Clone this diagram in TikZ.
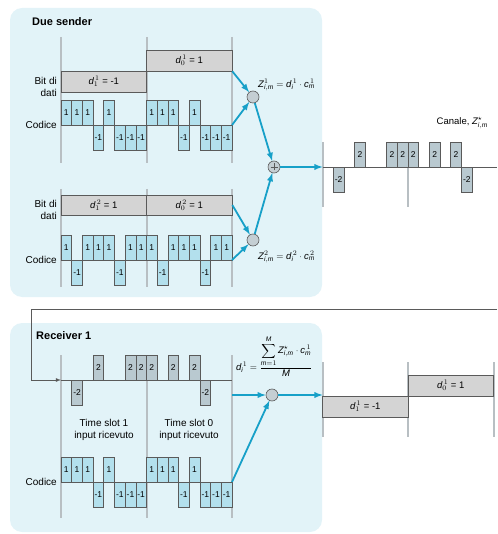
\documentclass[tikz,border=0pt]{standalone}
\usepackage{fontspec}
\setmainfont{Liberation Sans}
\usetikzlibrary{arrows}

\definecolor{panelbg}{HTML}{E2F3F8}
\definecolor{codefill}{HTML}{B3E0ED}
\definecolor{chanfill}{HTML}{B9C9D0}
\definecolor{datafill}{HTML}{D4D4D4}
\definecolor{edgegray}{HTML}{5A5A5A}
\definecolor{guidegray}{HTML}{B8BFC3}
\definecolor{flowblue}{HTML}{17A0C8}
\definecolor{mixfill}{HTML}{C4CED3}

\newcommand\mvar[1]{\mathit{#1}}
\def\cw{10.6875}

\begin{document}
\begin{tikzpicture}[x=1pt,y=-1pt,
  panel/.style={fill=panelbg,draw=none,rounded corners=12pt},
  guide/.style={draw=guidegray,line width=2pt},
  axis/.style={draw=edgegray,line width=0.8pt},
  codebar/.style={fill=codefill,draw=edgegray,line width=0.6pt},
  chanbar/.style={fill=chanfill,draw=edgegray,line width=0.6pt},
  chipnum/.style={font=\fontsize{8.5}{9}\selectfont,inner sep=0pt},
  databox/.style={fill=datafill,draw=edgegray,line width=0.6pt,minimum width=85.5pt,minimum height=21pt,inner sep=0pt,font=\fontsize{9.5}{11}\selectfont},
  rowlabel/.style={anchor=east,align=right,inner sep=0pt,font=\fontsize{10}{11.5}\selectfont},
  title/.style={anchor=west,inner sep=0pt,font=\fontsize{11}{13}\bfseries\selectfont},
  mixer/.style={circle,fill=mixfill,draw=edgegray,line width=0.6pt,minimum size=12pt,inner sep=0pt},
  flow/.style={draw=flowblue,line width=1.8pt,-latex},
  formula/.style={inner sep=0pt,font=\fontsize{9.5}{10}\selectfont}]
\useasboundingbox (0,0) rectangle (497,534);

%panels
\fill[panel] (10,8) rectangle (322,297);
\fill[panel] (10,323) rectangle (322,532);
\node[title] (sendtitle) at (32,22) {Due sender};
\node[title] (rxtitle) at (36,336) {Receiver 1};

%guide lines
\foreach \x in {61,146.5,232} {
  \draw[guide] (\x,37) -- (\x,163);
  \draw[guide] (\x,189) -- (\x,287);
  \draw[guide] (\x,355) -- (\x,518);
}
\foreach \x in {322.5,408} \draw[guide] (\x,142) -- (\x,207);
\foreach \x in {322.5,408,493.5} \draw[guide] (\x,362) -- (\x,437);

%sender 1: data bits and code
\node[rowlabel] (bits1) at (57,87) {Bit di\\dati};
\node[rowlabel] (code1) at (57,125) {Codice};
\node[databox] (d11) at (103.75,81.5) {$\mvar{d}^{\,1}_{1}$ = -1};
\node[databox] (d01) at (189.25,60.5) {$\mvar{d}^{\,1}_{0}$ = 1};
\draw[axis] (61,125) -- (232,125);
\foreach \v [count=\i from 0] in {1,1,1,-1,1,-1,-1,-1,1,1,1,-1,1,-1,-1,-1} {
  \filldraw[codebar] ({61+\i*\cw},125) rectangle ++(\cw,{-\v*25});
  \node[chipnum] at ({61+(\i+0.5)*\cw},{125-\v*12.5}) {\v};
}
\coordinate (c1end) at (232,125);

%sender 2: data bits and code
\node[rowlabel] (bits2) at (57,210) {Bit di\\dati};
\node[rowlabel] (code2) at (57,260) {Codice};
\node[databox,minimum height=20pt] (d12) at (103.75,205) {$\mvar{d}^{\,2}_{1}$ = 1};
\node[databox,minimum height=20pt] (d02) at (189.25,205) {$\mvar{d}^{\,2}_{0}$ = 1};
\draw[axis] (61,260) -- (232,260);
\foreach \v [count=\i from 0] in {1,-1,1,1,1,-1,1,1,1,-1,1,1,1,-1,1,1} {
  \filldraw[codebar] ({61+\i*\cw},260) rectangle ++(\cw,{-\v*25});
  \node[chipnum] at ({61+(\i+0.5)*\cw},{260-\v*12.5}) {\v};
}
\coordinate (c2end) at (232,260);

%mixing and sum
\node[mixer] (mix1) at (253,97) {};
\node[mixer] (mix2) at (253,240) {};
\node[mixer] (add) at (274,167) {};
\draw[edgegray,line width=0.7pt] ([xshift=-3.5pt]add.center) -- ([xshift=3.5pt]add.center)
  ([yshift=-3.5pt]add.center) -- ([yshift=3.5pt]add.center);
\node[formula,anchor=west] (z1) at (258,85) {$\mvar{Z}^{1}_{\mvar{i,m}} = \mvar{d}^{\,1}_{\mvar{i}}\cdot \mvar{c}^{\,1}_{\mvar{m}}$};
\node[formula,anchor=west] (z2) at (258,257) {$\mvar{Z}^{2}_{\mvar{i,m}} = \mvar{d}^{\,2}_{\mvar{i}}\cdot \mvar{c}^{\,2}_{\mvar{m}}$};
\draw[flow] (d01.south east) -- (mix1);
\draw[flow] (c1end) -- (mix1);
\draw[flow] (d02.east) -- (mix2);
\draw[flow] (c2end) -- (mix2);
\draw[flow] (mix1) -- (add);
\draw[flow] (mix2) -- (add);
\coordinate (chin) at (322.5,167);
\draw[flow] (add) -- (chin);

%channel
\draw[axis] (322.5,167) -- (497,167);
\foreach \v [count=\i from 0] in {0,-2,0,2,0,0,2,2,2,0,2,0,2,-2,0,0} {
  \ifnum\v=0\else
  \filldraw[chanbar] ({322.5+\i*\cw},167) rectangle ++(\cw,{-\v*12.5});
  \node[chipnum] at ({322.5+(\i+0.5)*\cw},{167-\v*6.25}) {\v};
  \fi
}
\node[formula,anchor=east] (chlabel) at (488,123) {Canale, $\mvar{Z}^{\star}_{\mvar{i,m}}$};

%back to the receiver
\coordinate (wrap) at (497,309);
\coordinate (bend) at (31,309);
\coordinate (rxin) at (61,380);
\draw[edgegray,line width=0.8pt,-latex] (wrap) -- (bend) |- (rxin);

%receiver: received signal
\draw[axis] (61,380) -- (232,380);
\foreach \v [count=\i from 0] in {0,-2,0,2,0,0,2,2,2,0,2,0,2,-2,0,0} {
  \ifnum\v=0\else
  \filldraw[chanbar] ({61+\i*\cw},380) rectangle ++(\cw,{-\v*12.5});
  \node[chipnum] at ({61+(\i+0.5)*\cw},{380-\v*6.25}) {\v};
  \fi
}
\node[align=center,inner sep=0pt,font=\fontsize{10}{12}\selectfont] (slot1) at (104,430) {Time slot 1\\input ricevuto};
\node[align=center,inner sep=0pt,font=\fontsize{10}{12}\selectfont] (slot0) at (189,430) {Time slot 0\\input ricevuto};

%receiver: code
\node[rowlabel] (code3) at (57,482) {Codice};
\draw[axis] (61,482) -- (232,482);
\foreach \v [count=\i from 0] in {1,1,1,-1,1,-1,-1,-1,1,1,1,-1,1,-1,-1,-1} {
  \filldraw[codebar] ({61+\i*\cw},482) rectangle ++(\cw,{-\v*25});
  \node[chipnum] at ({61+(\i+0.5)*\cw},{482-\v*12.5}) {\v};
}
\coordinate (c3end) at (232,482);

%decoding
\node[mixer] (dec) at (272,395) {};
\coordinate (sigend) at (232,395);
\coordinate (rxout) at (322.5,395);
\node[formula,anchor=base west,font=\fontsize{9.5}{10}\selectfont] (decform) at (236,370) {$\mvar{d}^{\,1}_{\mvar{i}} = \displaystyle\frac{\displaystyle\sum_{\mvar{m}=1}^{\mvar{M}} \mvar{Z}^{\star}_{\mvar{i,m}}\cdot \mvar{c}^{\,1}_{\mvar{m}}}{\mvar{M}}$};
\draw[flow] (sigend) -- (dec);
\draw[flow] (c3end) -- (dec);
\draw[flow] (dec) -- (rxout);

%decoded bits
\node[databox] (o11) at (365.25,406.5) {$\mvar{d}^{\,1}_{1}$ = -1};
\node[databox] (o01) at (450.75,385.5) {$\mvar{d}^{\,1}_{0}$ = 1};
\end{tikzpicture}
\end{document}
